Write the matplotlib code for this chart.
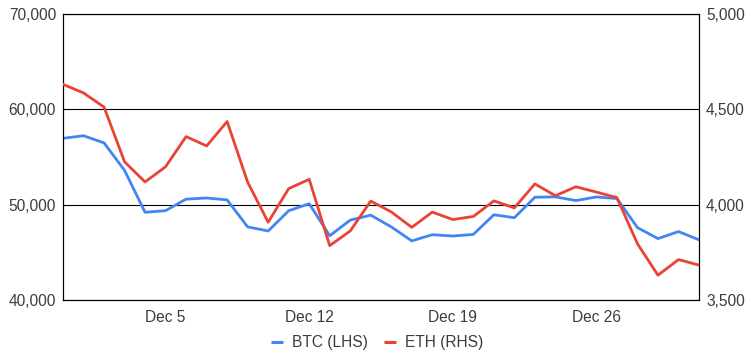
import pandas as pd
import matplotlib.pyplot as plt
import matplotlib.ticker as mticker
from matplotlib.lines import Line2D

plt.rcParams['font.family'] = ['Liberation Sans', 'DejaVu Sans']

dates = pd.date_range('2021-11-30', '2021-12-31', freq='D')
btc = [56960, 57230, 56480, 53600, 49200, 49370, 50580, 50700, 50500, 47670,
       47240, 49360, 50100, 46740, 48380, 48900, 47670, 46200, 46850, 46710,
       46880, 48940, 48630, 50780, 50820, 50430, 50810, 50640, 47590, 46440,
       47180, 46310]
eth = [4631, 4586, 4512, 4225, 4119, 4199, 4357, 4308, 4436, 4118,
       3908, 4084, 4133, 3785, 3862, 4019, 3962, 3881, 3961, 3922,
       3938, 4020, 3983, 4109, 4047, 4094, 4066, 4037, 3795, 3630,
       3712, 3683]
tick_dates = pd.to_datetime(['2021-12-05', '2021-12-12', '2021-12-19', '2021-12-26'])
tick_labels = ['Dec 5', 'Dec 12', 'Dec 19', 'Dec 26']

blue = '#4285F4'
red = '#EA4335'
txt = '#3c3c3c'
fs = 11.2

fig = plt.figure(figsize=(7.52, 3.56), dpi=100)
ax = fig.add_axes([63/752, 1 - 300/356, (699 - 63)/752, (300 - 14)/356])
ax2 = ax.twinx()

ax.plot(dates, btc, color=blue, lw=2, zorder=3)
ax2.plot(dates, eth, color=red, lw=2, zorder=3)

ax.set_xlim(dates[0], dates[-1])
ax.set_ylim(40000, 70000)
ax2.set_ylim(3500, 5000)
ax.set_yticks([40000, 50000, 60000, 70000])
ax2.set_yticks([3500, 4000, 4500, 5000])
ax.yaxis.set_major_formatter(mticker.StrMethodFormatter('{x:,.0f}'))
ax2.yaxis.set_major_formatter(mticker.StrMethodFormatter('{x:,.0f}'))
ax.set_xticks(tick_dates)
ax.set_xticklabels(tick_labels)

ax.grid(axis='y', color='black', lw=0.8)
ax.set_axisbelow(True)
for a in (ax, ax2):
    for s in a.spines.values():
        s.set_color('black')
        s.set_linewidth(0.8)
    a.tick_params(length=0, labelsize=fs, labelcolor=txt)
ax.tick_params(axis='x', pad=7)
ax.tick_params(axis='y', pad=5)
ax2.tick_params(axis='y', pad=5)

handles = [Line2D([], [], color=blue, lw=2.2, solid_capstyle='butt'),
           Line2D([], [], color=red, lw=2.2, solid_capstyle='butt')]
fig.legend(handles, ['BTC (LHS)', 'ETH (RHS)'], loc='center',
           bbox_to_anchor=(377/752, 1 - 343/356), ncol=2, frameon=False,
           handlelength=0.77, handletextpad=0.56, columnspacing=1.03,
           labelcolor=txt, fontsize=fs)

fig.savefig('out.png', dpi=100)
